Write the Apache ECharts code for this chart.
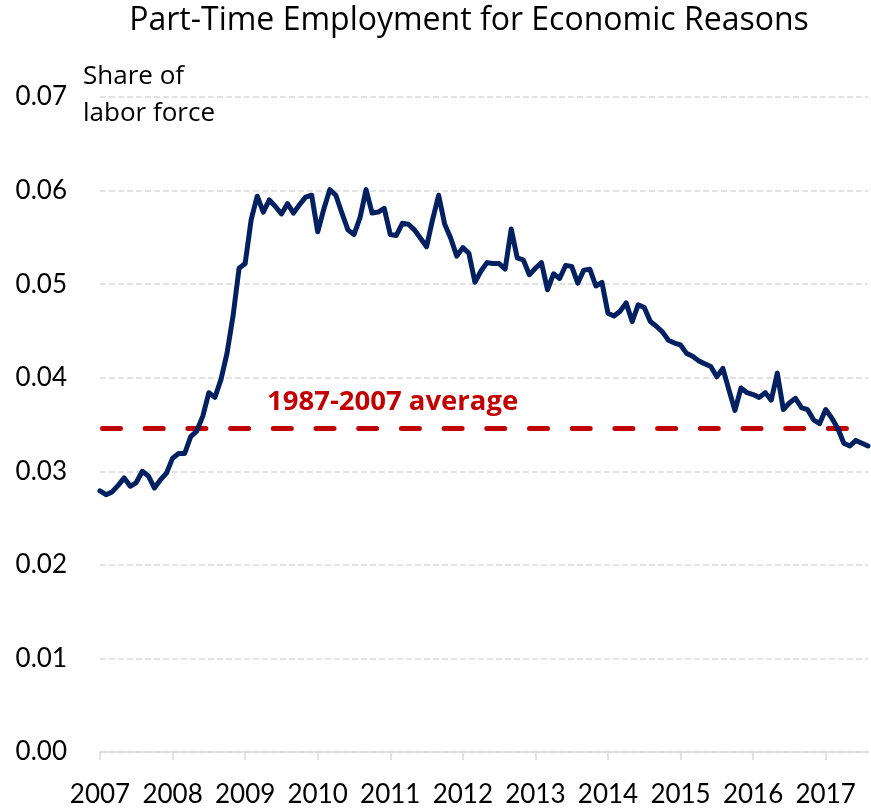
<!DOCTYPE html>
<html>
<head>
<meta charset="utf-8">
<script src="https://cdn.jsdelivr.net/npm/echarts@6/dist/echarts.min.js"></script>
<style>
  html, body { margin: 0; padding: 0; background: #fff; }
  #chart { width: 871px; height: 808px; }
</style>
</head>
<body>
<div id="chart"></div>
<script>
// Monthly series, January 2007 onward
const startYear = 2007;
const shareOfLaborForce = [
  0.0279, 0.0275, 0.0278, 0.0285, 0.0293, 0.0284, 0.0288, 0.0300, 0.0295, 0.0282, 0.0291, 0.0298,
  0.0314, 0.0319, 0.0319, 0.0337, 0.0343, 0.0359, 0.0384, 0.0379, 0.0398, 0.0426, 0.0466, 0.0517,
  0.0522, 0.0569, 0.0594, 0.0577, 0.0590, 0.0583, 0.0575, 0.0586, 0.0576, 0.0585, 0.0593, 0.0595,
  0.0556, 0.0580, 0.0601, 0.0595, 0.0576, 0.0558, 0.0553, 0.0571, 0.0601, 0.0576, 0.0577, 0.0581,
  0.0553, 0.0552, 0.0565, 0.0564, 0.0558, 0.0549, 0.0540, 0.0569, 0.0595, 0.0564, 0.0549, 0.0530,
  0.0539, 0.0533, 0.0502, 0.0514, 0.0523, 0.0522, 0.0522, 0.0516, 0.0559, 0.0528, 0.0526, 0.0510,
  0.0517, 0.0523, 0.0494, 0.0511, 0.0506, 0.0520, 0.0519, 0.0501, 0.0515, 0.0516, 0.0498, 0.0502,
  0.0469, 0.0466, 0.0471, 0.0480, 0.0460, 0.0478, 0.0475, 0.0460, 0.0455, 0.0449, 0.0440, 0.0437,
  0.0435, 0.0426, 0.0423, 0.0418, 0.0415, 0.0412, 0.0401, 0.0410, 0.0387, 0.0365, 0.0389, 0.0384,
  0.0382, 0.0379, 0.0384, 0.0376, 0.0405, 0.0366, 0.0373, 0.0378, 0.0368, 0.0366, 0.0355, 0.0351,
  0.0366, 0.0357, 0.0346, 0.0330, 0.0327, 0.0333, 0.0330, 0.0327
];
const historicalAverage = 0.0346;   // 1987-2007 average
const yTicks = [0.00, 0.01, 0.02, 0.03, 0.04, 0.05, 0.06, 0.07];

// month categories: "2007-01", "2007-02", ...
const months = shareOfLaborForce.map((_, i) => {
  const y = startYear + Math.floor(i / 12);
  const m = (i % 12) + 1;
  return y + '-' + (m < 10 ? '0' + m : m);
});

const NUM_FONT = 'Lato';
const TEXT_FONT = 'Open Sans';
const chart = echarts.init(document.getElementById('chart'), null, { renderer: 'canvas' });

chart.setOption({
  animation: false,
  backgroundColor: '#ffffff',
  textStyle: { fontFamily: TEXT_FONT },
  title: {
    text: 'Part-Time Employment for Economic Reasons',
    left: 464,
    textAlign: 'center',
    top: 0,
    textStyle: { fontFamily: TEXT_FONT, fontSize: 32, fontWeight: 'normal', color: '#000' }
  },
  grid: { left: 100, right: 3, top: 97, bottom: 55.5, containLabel: false },
  xAxis: {
    type: 'category',
    data: months,
    boundaryGap: false,
    axisLine: { show: true, lineStyle: { color: '#d9d9d9', width: 1.5 } },
    axisTick: {
      show: true, length: 8, lineStyle: { color: '#d9d9d9', width: 1.5 },
      interval: (i) => i % 12 === 0
    },
    axisLabel: {
      interval: (i) => i % 12 === 0,
      formatter: (v) => v.slice(0, 4),
      fontFamily: NUM_FONT, fontSize: 26, color: '#000', margin: 30
    },
    splitLine: { show: false }
  },
  yAxis: {
    type: 'value',
    min: yTicks[0],
    max: yTicks[yTicks.length - 1],
    interval: 0.01,
    axisLine: { show: false },
    axisTick: { show: false },
    axisLabel: {
      formatter: (v) => v.toFixed(2),
      fontFamily: NUM_FONT, fontSize: 26, color: '#000', margin: 33
    },
    splitLine: { show: true, lineStyle: { color: '#d9d9d9', width: 1.5, type: [6, 3] } }
  },
  graphic: [
    {
      type: 'text', left: 83, top: 58,
      style: {
        text: 'Share of\nlabor force',
        fontFamily: TEXT_FONT, fontSize: 26, lineHeight: 37, fill: '#000'
      }
    },
    {
      type: 'text', left: 267, top: 388,
      style: {
        text: '1987-2007 average',
        fontFamily: TEXT_FONT, fontSize: 27.5, fontWeight: 'bold', fill: '#c00000'
      }
    }
  ],
  series: [{
    type: 'line',
    data: shareOfLaborForce,
    showSymbol: false,
    symbol: 'none',
    lineStyle: { color: '#002060', width: 5, join: 'round', cap: 'round' },
    z: 3,
    markLine: {
      silent: true,
      symbol: 'none',
      precision: 4,
      label: { show: false },
      lineStyle: { color: '#c00000', width: 5, type: [18, 24.7], cap: 'round', dashOffset: -2.5 },
      data: [{ yAxis: historicalAverage }],
      z: 2
    }
  }]
});
</script>
</body>
</html>
